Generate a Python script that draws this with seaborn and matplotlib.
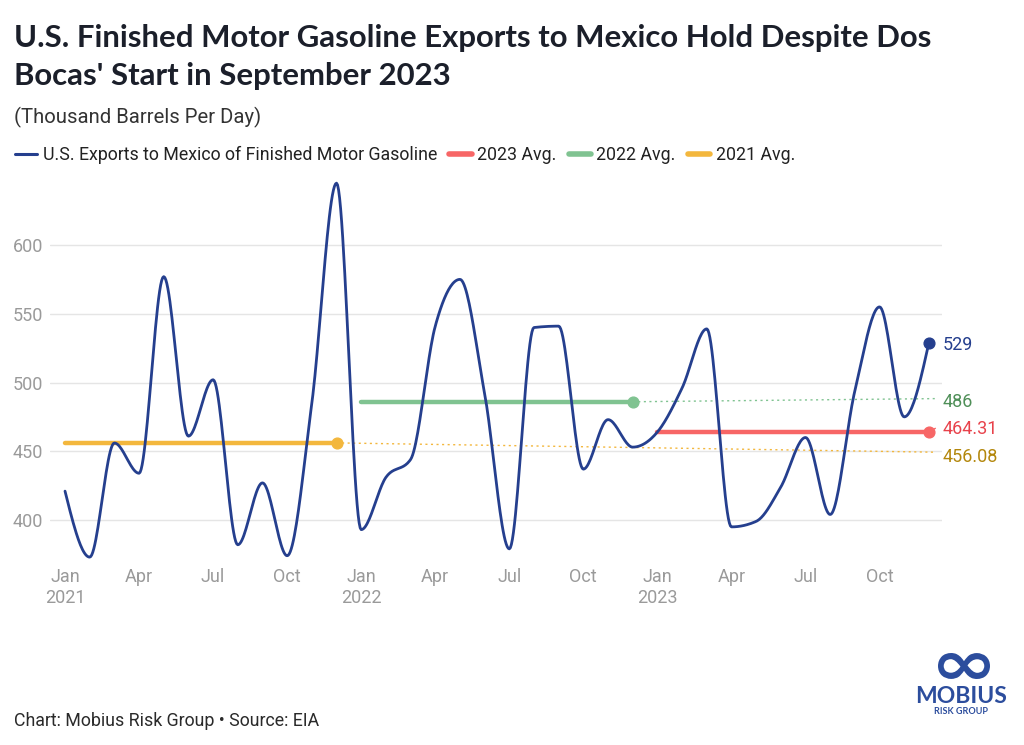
import numpy as np
import pandas as pd
import matplotlib
matplotlib.use('Agg')
import matplotlib.pyplot as plt
from matplotlib.lines import Line2D
from matplotlib.textpath import TextPath
from matplotlib.patches import PathPatch
from matplotlib.font_manager import FontProperties
from matplotlib.transforms import Affine2D
import seaborn as sns

# monthly values, Jan 2021 .. Dec 2023 (thousand barrels per day)
exports_2021 = [421, 373, 456, 434, 577, 461, 502, 382, 427, 374, 485, 645]
exports_2022 = [393, 431, 444, 541, 575, 492, 379, 540, 541, 437, 473, 453]
exports_2023 = [464, 496, 539, 395, 399, 424, 460, 404, 494, 555, 475, 529]

avg_labels = ['2023 Avg.', '2022 Avg.', '2021 Avg.']
avg_values = [464.31, 486, 456.08]
avg_text = ['464.31', '486', '456.08']

tick_labels = ['Jan\n2021', 'Apr', 'Jul', 'Oct', 'Jan\n2022', 'Apr', 'Jul', 'Oct',
               'Jan\n2023', 'Apr', 'Jul', 'Oct']

BLUE = '#253f8e'
RED = '#f76666'
GREEN = '#80c391'
YELLOW = '#f3b73d'
GRAY = '#9a9a9a'
DARK = '#1b1f2a'
LOGO = '#2c4d9d'


def monotone_curve(y, steps=24):
    # same idea as d3 curveMonotoneX, unit spacing
    y = np.asarray(y, dtype=float)
    d = np.diff(y)
    m = np.zeros_like(y)
    for i in range(1, len(y) - 1):
        s0, s1 = d[i - 1], d[i]
        p = (s0 + s1) / 2
        m[i] = (np.sign(s0) + np.sign(s1)) * min(abs(s0), abs(s1), 0.5 * abs(p))
    m[0] = (3 * d[0] - m[1]) / 2
    m[-1] = (3 * d[-1] - m[-2]) / 2
    xs, ys = [], []
    for i in range(len(y) - 1):
        t = np.linspace(0, 1, steps, endpoint=(i == len(y) - 2))
        h00 = 2 * t**3 - 3 * t**2 + 1
        h10 = t**3 - 2 * t**2 + t
        h01 = -2 * t**3 + 3 * t**2
        h11 = t**3 - t**2
        xs.append(i + t)
        ys.append(h00 * y[i] + h10 * m[i] + h01 * y[i + 1] + h11 * m[i + 1])
    return np.concatenate(xs), np.concatenate(ys)


values = exports_2021 + exports_2022 + exports_2023
df = pd.DataFrame({'month': np.arange(len(values)), 'value': values})
cx, cy = monotone_curve(df['value'])
curve = pd.DataFrame({'month': cx, 'value': cy})

sns.set_style('white')
plt.rcParams['font.family'] = ['Roboto', 'DejaVu Sans']

fig = plt.figure(figsize=(10.24, 7.45), dpi=100)
ax = fig.add_axes([50 / 1024, 1 - 561.25 / 745, 892 / 1024, (561.25 - 180.4) / 745])

# yearly averages: solid over the year, dot at year end, dotted link to label
spans = [(24, 35), (12, 23), (0, 11)]
colors = [RED, GREEN, YELLOW]
link_end = [467.0, 488.3, 449.3]
for (a, b), v, c, le in zip(spans, avg_values, colors, link_end):
    sns.lineplot(x=[a, b], y=[v, v], ax=ax, color=c, lw=3.2, solid_capstyle='round', zorder=2)
    ax.plot([b, 35.3], [v, le], color=c, lw=1, ls=(0, (1.5, 2.5)), zorder=2, clip_on=False)
    ax.scatter([b], [v], s=60, color=c, zorder=3, clip_on=False)

sns.lineplot(data=curve, x='month', y='value', ax=ax, color=BLUE, lw=2, estimator=None, zorder=4)
ax.scatter([df['month'].iloc[-1]], [df['value'].iloc[-1]], s=60, color=BLUE, zorder=5, clip_on=False)

ax.set_ylim(370, 647)
ax.set_xlim(-0.608, 35.53)
ax.set_yticks([400, 450, 500, 550, 600])
ax.yaxis.grid(True, color='#e5e5e5', lw=1)
ax.xaxis.grid(False)
for s in ax.spines.values():
    s.set_visible(False)
ax.set_xticks(np.arange(0, 36, 3))
ax.set_xticklabels(tick_labels)
ax.tick_params(axis='both', length=0, labelsize=13, labelcolor=GRAY)
ax.tick_params(axis='y', pad=5)
ax.tick_params(axis='x', pad=5)
ax.set_xlabel('')
ax.set_ylabel('')

# end labels
ax.text(35.57, 527.5, '529', color=BLUE, fontsize=13, va='center', ha='left')
label_y = [466.0, 486.1, 445.5]
label_colors = ['#e8424b', '#4f8f58', '#b3870c']
for t, ly, c in zip(avg_text, label_y, label_colors):
    ax.text(35.57, ly, t, color=c, fontsize=13, va='center', ha='left')

# title, subtitle, legend, footer
fig.text(14 / 1024, 1 - 46.7 / 745, 'U.S. Finished Motor Gasoline Exports to Mexico Hold Despite Dos',
         family='Lato', weight='bold', fontsize=22.4, color=DARK, va='baseline')
fig.text(14 / 1024, 1 - 85 / 745, "Bocas' Start in September 2023",
         family='Lato', weight='bold', fontsize=22.4, color=DARK, va='baseline')
fig.text(14 / 1024, 1 - 123.5 / 745, '(Thousand Barrels Per Day)', fontsize=14.6, color='#333333',
         va='baseline')

handles = [Line2D([0], [0], color=BLUE, lw=2.2)] + \
          [Line2D([0], [0], color=c, lw=4, solid_capstyle='round') for c in colors]
labels = ['U.S. Exports to Mexico of Finished Motor Gasoline'] + avg_labels
leg = fig.legend(handles, labels, loc='center left', bbox_to_anchor=(-1 / 1024, 1 - 155 / 745), ncol=4,
                 frameon=False, fontsize=12.8, handlelength=1.25, handletextpad=0.3, columnspacing=0.7)
for t in leg.get_texts():
    t.set_color('#222222')

fig.text(14 / 1024, 1 - 726 / 745, 'Chart: Mobius Risk Group \u2022 Source: EIA', fontsize=12.8,
         color='#2a2a2a', va='baseline')

# logo: stretched infinity mark + wordmark
inf = TextPath((0, 0), '\u221e', size=40, prop=FontProperties(family='DejaVu Sans', weight='bold'))
ext = inf.get_extents()
sx = 52 / ext.width
sy = 26 / ext.height
tr = Affine2D().translate(-ext.x0, -ext.y0).scale(sx, sy).translate(938, 745 - 679)
fig.patches.append(PathPatch(tr.transform_path(inf), facecolor=LOGO, edgecolor='none',
                             transform=None, figure=fig))
fig.text(961 / 1024, 1 - 703 / 745, 'MOBIUS', family='Lato', weight='bold', fontsize=16.5,
         color=LOGO, ha='center', va='baseline')
fig.text(961 / 1024, 1 - 714 / 745, 'RISK GROUP', family='Lato', weight='bold', fontsize=6.5,
         color=LOGO, ha='center', va='baseline')

fig.savefig('out.png', dpi=100)
